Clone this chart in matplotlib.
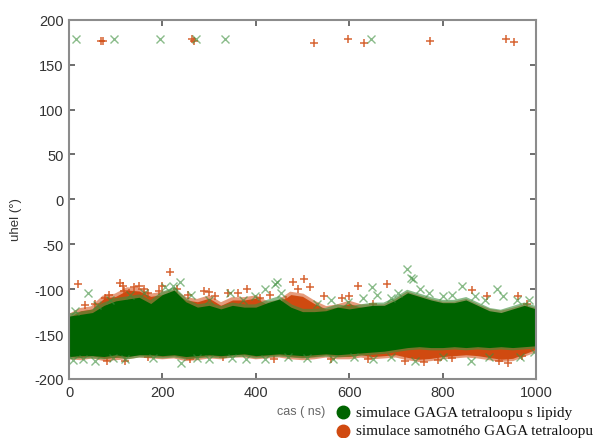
import matplotlib
matplotlib.use("Agg")
import matplotlib.pyplot as plt
from matplotlib.lines import Line2D

# --- data -------------------------------------------------------------------
# time grid (ns) for the dense band envelopes
t_grid = [0, 25, 50, 75, 100, 125, 150, 175, 200, 225, 250, 275, 300, 325, 350,
          375, 400, 425, 450, 475, 500, 525, 550, 575, 600, 625, 650, 675, 700,
          725, 750, 775, 800, 825, 850, 875, 900, 925, 950, 975, 1000]

# simulation with lipids: upper / lower edge of the dense cloud (deg)
lip_hi = [-130, -128, -126, -118, -113, -111, -109, -116, -106, -101, -114, -120,
          -118, -122, -118, -120, -120, -115, -111, -120, -125, -125, -124, -120,
          -122, -120, -118, -118, -112, -104, -108, -112, -115, -115, -112, -118,
          -124, -126, -122, -118, -122]
lip_lo = [-175, -174, -174, -175, -173, -175, -173, -173, -174, -173, -175, -174,
          -173, -174, -173, -172, -174, -173, -172, -173, -174, -173, -172, -173,
          -172, -171, -170, -169, -167, -165, -164, -165, -165, -164, -165, -164,
          -165, -164, -165, -164, -163]

# tetraloop alone: upper / lower edge of the dense cloud (deg)
solo_hi = [-131, -124, -122, -110, -108, -101, -102, -108, -106, -104, -112, -114,
           -110, -118, -112, -112, -110, -117, -115, -106, -108, -116, -122, -120,
           -116, -120, -120, -120, -114, -106, -110, -114, -117, -117, -114, -120,
           -125, -127, -124, -120, -124]
solo_lo = [-175, -176, -174, -177, -176, -175, -173, -174, -175, -174, -177, -176,
           -174, -175, -173, -173, -175, -174, -173, -175, -176, -175, -173, -175,
           -175, -173, -175, -174, -173, -176, -178, -177, -175, -174, -173, -174,
           -176, -178, -177, -172, -167]

# scattered frames outside the dense cloud
lip_t = [15, 97, 195, 273, 335, 647,
         41, 238, 420, 441, 445, 649, 724, 733, 737, 752, 841, 916, 930,
         12, 60, 88, 130, 160, 205, 222, 262, 300, 345, 372, 398, 455, 530, 560,
         598, 630, 660, 690, 705, 770, 800, 820, 870, 890, 960, 985,
         8, 30, 56, 95, 120, 180, 240, 275, 300, 350, 380, 420, 470, 510, 565,
         610, 650, 690, 740, 800, 860, 900, 965, 995]
lip_ang = [179, 179, 179, 179, 178, 178,
           -104, -92, -100, -94, -92, -98, -78, -88, -89, -100, -96, -100, -108,
           -124, -118, -112, -106, -104, -98, -96, -106, -112, -104, -112, -108,
           -104, -116, -112, -114, -110, -106, -110, -104, -104, -108, -106, -108,
           -112, -112, -112,
           -179, -178, -180, -177, -178, -177, -182, -177, -178, -177, -178, -178,
           -176, -177, -178, -176, -178, -176, -180, -175, -180, -176, -176, -170]

solo_t = [68, 73, 263, 268, 525, 597, 631, 774, 935, 953,
          20, 86, 110, 115, 118, 140, 150, 170, 216, 290, 300, 381, 480, 503,
          619, 681, 863, 895, 961,
          35, 55, 78, 128, 160, 192, 200, 232, 255, 312, 340, 362, 410, 430, 465,
          490, 515, 545, 585, 600, 650, 980,
          82, 120, 170, 260, 330, 440, 560, 640, 720, 760, 790, 820, 920, 940, 970]
solo_ang = [176, 176, 179, 176, 174, 179, 174, 176, 179, 175,
            -94, -106, -93, -97, -102, -98, -97, -104, -81, -102, -103, -100, -92,
            -89, -97, -94, -101, -108, -108,
            -118, -116, -110, -104, -100, -102, -96, -100, -106, -108, -104, -104,
            -110, -106, -112, -100, -98, -108, -110, -108, -116, -116,
            -180, -180, -176, -178, -176, -178, -178, -178, -180, -181, -179, -177,
            -180, -182, -174]

x_ticks = [0, 200, 400, 600, 800, 1000]
y_ticks = [-200, -150, -100, -50, 0, 50, 100, 150, 200]

legend_labels = ["simulace GAGA tetraloopu s lipidy",
                 "simulace samotného GAGA tetraloopu"]

# --- style ------------------------------------------------------------------
GREEN = "#006400"
GREEN_X = "#3c8f3c"
ORANGE = "#d04a10"
AXIS = "#8c8c8c"

plt.rcParams["font.family"] = ["Liberation Sans", "DejaVu Sans"]
plt.rcParams["axes.unicode_minus"] = False

fig = plt.figure(figsize=(5.97, 4.39), dpi=100)
ax = fig.add_axes([0.1156, 0.1344, 0.7822, 0.8184])

# tetraloop alone (drawn underneath)
for edge in (solo_hi, solo_lo):
    ax.plot(t_grid, edge, color=ORANGE, lw=4, alpha=0.55, zorder=1,
            solid_joinstyle="miter")
ax.fill_between(t_grid, solo_lo, solo_hi, color=ORANGE, lw=0, zorder=1.5)
ax.plot(solo_t, solo_ang, ls="none", marker="+", ms=6, mew=1.1,
        color=ORANGE, alpha=0.85, zorder=2)

# with lipids (on top)
for edge in (lip_hi, lip_lo):
    ax.plot(t_grid, edge, color=GREEN_X, lw=4, alpha=0.6, zorder=3,
            solid_joinstyle="miter")
ax.fill_between(t_grid, lip_lo, lip_hi, color=GREEN, lw=0, zorder=3.5)
ax.plot(lip_t, lip_ang, ls="none", marker="x", ms=6, mew=1.0,
        color=GREEN_X, alpha=0.6, zorder=4)

ax.set_xlim(0, 1000)
ax.set_ylim(-200, 200)
ax.set_xticks(x_ticks)
ax.set_yticks(y_ticks)

for s in ax.spines.values():
    s.set_color(AXIS)
    s.set_linewidth(1.5)
    s.set_zorder(5)
ax.tick_params(direction="in", length=4, width=1.2, color="#555555",
               top=True, right=True, labelsize=10.5, labelcolor="#333333", pad=4)

fig.text(0.027, 0.5, "uhel (°)", rotation=90, ha="center", va="center",
         fontsize=9.5, color="#333333")
fig.text(0.545, 0.061, "cas ( ns)", ha="right", va="center",
         fontsize=9, color="#666666")

# legend below the plot
for yy, col, lab in [(0.059, GREEN, legend_labels[0]),
                     (0.016, ORANGE, legend_labels[1])]:
    fig.add_artist(Line2D([0.575], [yy], transform=fig.transFigure,
                          marker="o", ms=9, color=col, ls="none"))
    fig.text(0.597, yy, lab, ha="left", va="center", fontsize=11,
             family=["Liberation Serif", "DejaVu Serif"], color="#111111")

fig.savefig("out.png", dpi=100)
